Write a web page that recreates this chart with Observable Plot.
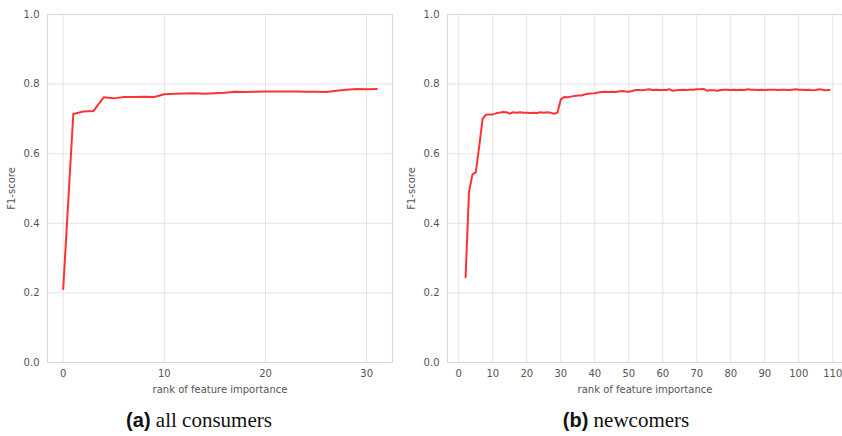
<!DOCTYPE html>
<html>
<head>
<meta charset="utf-8">
<script src="https://cdn.jsdelivr.net/npm/d3@7"></script>
<script src="https://cdn.jsdelivr.net/npm/@observablehq/plot@0.6"></script>
<style>
  html, body { margin: 0; padding: 0; background: #fff; }
  #wrap { position: relative; width: 842px; height: 436px; overflow: hidden; }
  .panel { position: absolute; top: 0; }
  .cap { position: absolute; top: 408px; font-family: "Liberation Serif", "Times New Roman", serif; font-size: 21px; color: #111; white-space: nowrap; transform: translateX(-50%); }
  .cap b { font-family: "Liberation Sans", Arial, sans-serif; font-weight: bold; font-size: 20px; }
</style>
</head>
<body>
<div id="wrap">
  <div id="left" class="panel" style="left:0px"></div>
  <div id="right" class="panel" style="left:400px"></div>
  <div class="cap" style="left:199px"><b>(a)</b> all consumers</div>
  <div class="cap" style="left:626px"><b>(b)</b> newcomers</div>
</div>
<script>
// Panel (a): all consumers, rank 0..31
const rankA = [0,1,2,3,4,5,6,7,8,9,10,11,12,13,14,15,16,17,18,19,20,21,22,23,24,25,26,27,28,29,30,31];
const f1A = [0.211,0.714,0.721,0.723,0.762,0.759,0.763,0.763,0.764,0.763,0.771,0.772,0.773,0.774,0.772,0.774,0.775,0.778,0.777,0.778,0.779,0.779,0.779,0.779,0.778,0.778,0.777,0.781,0.784,0.786,0.785,0.786];

// Panel (b): newcomers, rank 2..109
const rankB = [2,3,4,5,6,7,8,9,10,11,12,13,14,15,16,17,18,19,20,21,22,23,24,25,26,27,28,29,30,31,32,33,34,35,36,37,38,39,40,41,42,43,44,45,46,47,48,49,50,51,52,53,54,55,56,57,58,59,60,61,62,63,64,65,66,67,68,69,70,71,72,73,74,75,76,77,78,79,80,81,82,83,84,85,86,87,88,89,90,91,92,93,94,95,96,97,98,99,100,101,102,103,104,105,106,107,108,109];
const f1B = [0.245,0.490,0.540,0.547,0.620,0.700,0.712,0.713,0.713,0.716,0.718,0.720,0.719,0.715,0.719,0.718,0.719,0.718,0.718,0.717,0.718,0.717,0.719,0.718,0.719,0.718,0.715,0.718,0.756,0.763,0.762,0.764,0.766,0.767,0.767,0.770,0.772,0.773,0.774,0.776,0.777,0.778,0.777,0.778,0.777,0.779,0.780,0.779,0.778,0.780,0.783,0.783,0.782,0.784,0.785,0.783,0.784,0.783,0.783,0.783,0.785,0.781,0.782,0.783,0.784,0.783,0.784,0.784,0.785,0.785,0.786,0.781,0.782,0.782,0.781,0.783,0.784,0.784,0.783,0.784,0.783,0.784,0.783,0.785,0.784,0.784,0.783,0.784,0.783,0.784,0.784,0.784,0.783,0.784,0.784,0.783,0.784,0.785,0.784,0.784,0.783,0.784,0.782,0.783,0.785,0.784,0.782,0.783];

const ticksXA = [0,10,20,30];
const ticksXB = [0,10,20,30,40,50,60,70,80,90,100,110];
const ticksY = [0,0.2,0.4,0.6,0.8,1.0];
const yLabel = "F1-score";
const xLabel = "rank of feature importance";

function panel(rank, f1, xDomain, xTicks, width, marginRight) {
  const data = rank.map((r, i) => ({rank: r, f1: f1[i]}));
  return Plot.plot({
    width, height: 400,
    marginLeft: 47, marginRight, marginTop: 14, marginBottom: 38,
    style: {fontFamily: "DejaVu Sans, sans-serif", fontSize: "10px", color: "#555", background: "#fff"},
    x: {domain: xDomain},
    y: {domain: [0, 1]},
    marks: [
      Plot.gridX(xTicks, {stroke: "#e4e4e4", strokeOpacity: 1}),
      Plot.gridY(ticksY, {stroke: "#e4e4e4", strokeOpacity: 1}),
      Plot.frame({stroke: "#dadada", strokeWidth: 1.2}),
      Plot.axisX(xTicks, {tickSize: 0, tickPadding: 7, label: xLabel, labelAnchor: "center", labelOffset: 30, labelArrow: "none", fill: "#555"}),
      Plot.axisY(ticksY, {tickSize: 0, tickPadding: 8, tickFormat: d3.format(".1f"), label: yLabel, labelAnchor: "center", labelOffset: 40, labelArrow: "none", fill: "#555"}),
      Plot.line(data, {x: "rank", y: "f1", stroke: "#ff3333", strokeWidth: 2})
    ]
  });
}

document.getElementById("left").append(panel(rankA, f1A, [-1.55, 32.55], ticksXA, 400, 8));
document.getElementById("right").append(panel(rankB, f1B, [-3.32, 112.85], ticksXB, 442, 0));
</script>
</body>
</html>
